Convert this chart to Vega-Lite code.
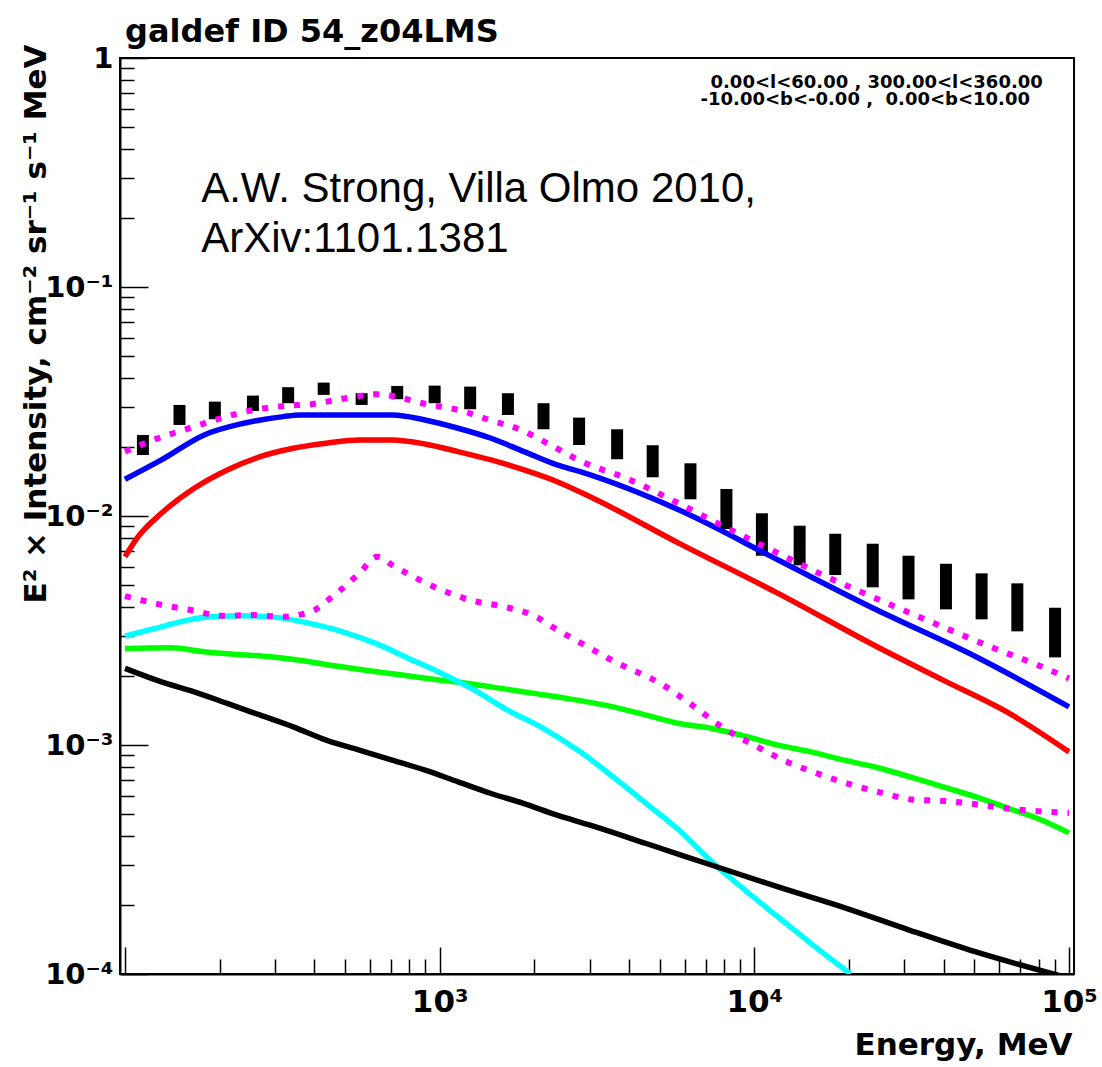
{
  "$schema": "https://vega.github.io/schema/vega-lite/v6.json",
  "width": 954,
  "height": 916,
  "autosize": {"type": "none"},
  "padding": {"left": 120, "top": 58, "right": 28, "bottom": 93},
  "background": "white",
  "title": {
    "text": "galdef ID 54_z04LMS",
    "anchor": "start",
    "frame": "group",
    "dx": 5,
    "offset": -30,
    "baseline": "alphabetic",
    "font": "DejaVu Sans",
    "fontSize": 32,
    "fontWeight": "bold",
    "color": "black"
  },
  "datasets": {
    "measured": [
      {"E": 114, "lo": 0.01847, "hi": 0.02259},
      {"E": 149, "lo": 0.02498, "hi": 0.03055},
      {"E": 193, "lo": 0.02645, "hi": 0.03158},
      {"E": 255, "lo": 0.02876, "hi": 0.03355},
      {"E": 330, "lo": 0.03108, "hi": 0.03651},
      {"E": 428, "lo": 0.03379, "hi": 0.03824},
      {"E": 565, "lo": 0.03055, "hi": 0.03437},
      {"E": 733, "lo": 0.03235, "hi": 0.03698},
      {"E": 964, "lo": 0.03108, "hi": 0.0371},
      {"E": 1250, "lo": 0.02925, "hi": 0.03673},
      {"E": 1648, "lo": 0.02762, "hi": 0.03437},
      {"E": 2138, "lo": 0.02392, "hi": 0.03108},
      {"E": 2774, "lo": 0.02042, "hi": 0.02689},
      {"E": 3664, "lo": 0.01769, "hi": 0.02392},
      {"E": 4753, "lo": 0.01476, "hi": 0.02037},
      {"E": 6266, "lo": 0.01183, "hi": 0.01699},
      {"E": 8152, "lo": 0.008773, "hi": 0.01312},
      {"E": 10570, "lo": 0.006707, "hi": 0.010276},
      {"E": 13930, "lo": 0.006088, "hi": 0.009071},
      {"E": 18080, "lo": 0.005522, "hi": 0.008366},
      {"E": 23780, "lo": 0.004882, "hi": 0.007566},
      {"E": 30900, "lo": 0.004325, "hi": 0.006707},
      {"E": 40640, "lo": 0.003911, "hi": 0.006186},
      {"E": 52760, "lo": 0.003537, "hi": 0.005618},
      {"E": 68520, "lo": 0.003135, "hi": 0.005081},
      {"E": 90300, "lo": 0.002413, "hi": 0.003975}
    ],
    "curves": [
      {"component": "total", "E": 100, "I": 0.01446},
      {"component": "total", "E": 130.5, "I": 0.01757},
      {"component": "total", "E": 178.5, "I": 0.02259},
      {"component": "total", "E": 238.5, "I": 0.02541},
      {"component": "total", "E": 318.5, "I": 0.02716},
      {"component": "total", "E": 359.5, "I": 0.02762},
      {"component": "total", "E": 706.5, "I": 0.02762},
      {"component": "total", "E": 899, "I": 0.02627},
      {"component": "total", "E": 1145, "I": 0.02417},
      {"component": "total", "E": 1457, "I": 0.02185},
      {"component": "total", "E": 1854, "I": 0.0191},
      {"component": "total", "E": 2362, "I": 0.01671},
      {"component": "total", "E": 2796, "I": 0.01561},
      {"component": "total", "E": 5768, "I": 0.01062},
      {"component": "total", "E": 11900, "I": 0.006423},
      {"component": "total", "E": 24550, "I": 0.003884},
      {"component": "total", "E": 50630, "I": 0.002428},
      {"component": "total", "E": 100000, "I": 0.001468},

      {"component": "pi0", "E": 100, "I": 0.006638},
      {"component": "pi0", "E": 110.1, "I": 0.00812},
      {"component": "pi0", "E": 130.5, "I": 0.010276},
      {"component": "pi0", "E": 166, "I": 0.013213},
      {"component": "pi0", "E": 211.3, "I": 0.015888},
      {"component": "pi0", "E": 269.1, "I": 0.018159},
      {"component": "pi0", "E": 342.4, "I": 0.019758},
      {"component": "pi0", "E": 435.9, "I": 0.02078},
      {"component": "pi0", "E": 555, "I": 0.02148},
      {"component": "pi0", "E": 706.5, "I": 0.02148},
      {"component": "pi0", "E": 899, "I": 0.02063},
      {"component": "pi0", "E": 1145, "I": 0.0191},
      {"component": "pi0", "E": 1457, "I": 0.01757},
      {"component": "pi0", "E": 1854, "I": 0.015888},
      {"component": "pi0", "E": 2362, "I": 0.01412},
      {"component": "pi0", "E": 3007, "I": 0.01214},
      {"component": "pi0", "E": 5768, "I": 0.007598},
      {"component": "pi0", "E": 11900, "I": 0.004594},
      {"component": "pi0", "E": 24550, "I": 0.002685},
      {"component": "pi0", "E": 39790, "I": 0.00192},
      {"component": "pi0", "E": 64440, "I": 0.001377},
      {"component": "pi0", "E": 100000, "I": 0.0009333},

      {"component": "IC", "E": 100, "I": 0.002642},
      {"component": "IC", "E": 140.3, "I": 0.002658},
      {"component": "IC", "E": 178.5, "I": 0.002553},
      {"component": "IC", "E": 227.2, "I": 0.002487},
      {"component": "IC", "E": 289.3, "I": 0.002428},
      {"component": "IC", "E": 368.1, "I": 0.002332},
      {"component": "IC", "E": 468.7, "I": 0.002211},
      {"component": "IC", "E": 596.8, "I": 0.002109},
      {"component": "IC", "E": 759.5, "I": 0.00202},
      {"component": "IC", "E": 966.5, "I": 0.001934},
      {"component": "IC", "E": 1231, "I": 0.001857},
      {"component": "IC", "E": 1567, "I": 0.001767},
      {"component": "IC", "E": 1994, "I": 0.00168},
      {"component": "IC", "E": 2539, "I": 0.001597},
      {"component": "IC", "E": 3558, "I": 0.001467},
      {"component": "IC", "E": 4532, "I": 0.00135},
      {"component": "IC", "E": 5768, "I": 0.001242},
      {"component": "IC", "E": 7340, "I": 0.001181},
      {"component": "IC", "E": 9349, "I": 0.001093},
      {"component": "IC", "E": 11900, "I": 0.0009984},
      {"component": "IC", "E": 15150, "I": 0.0009333},
      {"component": "IC", "E": 19290, "I": 0.0008584},
      {"component": "IC", "E": 24550, "I": 0.0007978},
      {"component": "IC", "E": 31240, "I": 0.0007258},
      {"component": "IC", "E": 39790, "I": 0.0006564},
      {"component": "IC", "E": 50630, "I": 0.0005935},
      {"component": "IC", "E": 64440, "I": 0.0005281},
      {"component": "IC", "E": 82080, "I": 0.0004695},
      {"component": "IC", "E": 100000, "I": 0.0004132},

      {"component": "bremss", "E": 100, "I": 0.002989},
      {"component": "bremss", "E": 130.5, "I": 0.003282},
      {"component": "bremss", "E": 158.2, "I": 0.003511},
      {"component": "bremss", "E": 187.3, "I": 0.003631},
      {"component": "bremss", "E": 238.5, "I": 0.003667},
      {"component": "bremss", "E": 303.5, "I": 0.003608},
      {"component": "bremss", "E": 386.5, "I": 0.003397},
      {"component": "bremss", "E": 491.8, "I": 0.003122},
      {"component": "bremss", "E": 625.9, "I": 0.002777},
      {"component": "bremss", "E": 797.3, "I": 0.002389},
      {"component": "bremss", "E": 1015, "I": 0.002054},
      {"component": "bremss", "E": 1291, "I": 0.001736},
      {"component": "bremss", "E": 1644, "I": 0.00142},
      {"component": "bremss", "E": 2093, "I": 0.0012},
      {"component": "bremss", "E": 2796, "I": 0.0009333},
      {"component": "bremss", "E": 3558, "I": 0.0007258},
      {"component": "bremss", "E": 4532, "I": 0.0005552},
      {"component": "bremss", "E": 5768, "I": 0.0004245},
      {"component": "bremss", "E": 7340, "I": 0.0003086},
      {"component": "bremss", "E": 9349, "I": 0.0002321},
      {"component": "bremss", "E": 11900, "I": 0.0001774},
      {"component": "bremss", "E": 15150, "I": 0.0001358},
      {"component": "bremss", "E": 20230, "I": 0.0001},

      {"component": "isotropic", "E": 100, "I": 0.00216},
      {"component": "isotropic", "E": 130.5, "I": 0.001887},
      {"component": "isotropic", "E": 166, "I": 0.001707},
      {"component": "isotropic", "E": 211.3, "I": 0.001519},
      {"component": "isotropic", "E": 269.1, "I": 0.00135},
      {"component": "isotropic", "E": 342.4, "I": 0.0012},
      {"component": "isotropic", "E": 435.9, "I": 0.00105},
      {"component": "isotropic", "E": 555, "I": 0.0009493},
      {"component": "isotropic", "E": 706.5, "I": 0.0008584},
      {"component": "isotropic", "E": 899, "I": 0.0007764},
      {"component": "isotropic", "E": 1145, "I": 0.0006901},
      {"component": "isotropic", "E": 1457, "I": 0.0006141},
      {"component": "isotropic", "E": 1854, "I": 0.0005552},
      {"component": "isotropic", "E": 2362, "I": 0.0004937},
      {"component": "isotropic", "E": 3007, "I": 0.0004464},
      {"component": "isotropic", "E": 4532, "I": 0.0003714},
      {"component": "isotropic", "E": 7340, "I": 0.0002985},
      {"component": "isotropic", "E": 11900, "I": 0.0002399},
      {"component": "isotropic", "E": 19290, "I": 0.000195},
      {"component": "isotropic", "E": 31240, "I": 0.0001552},
      {"component": "isotropic", "E": 50630, "I": 0.0001248},
      {"component": "isotropic", "E": 100000, "I": 0.00009585},

      {"component": "total_with_sources", "E": 100, "I": 0.0191},
      {"component": "total_with_sources", "E": 127.3, "I": 0.02185},
      {"component": "total_with_sources", "E": 160.1, "I": 0.02417},
      {"component": "total_with_sources", "E": 201.4, "I": 0.02672},
      {"component": "total_with_sources", "E": 256.4, "I": 0.02905},
      {"component": "total_with_sources", "E": 322.4, "I": 0.03024},
      {"component": "total_with_sources", "E": 395.8, "I": 0.03086},
      {"component": "total_with_sources", "E": 503.8, "I": 0.03268},
      {"component": "total_with_sources", "E": 633.9, "I": 0.03403},
      {"component": "total_with_sources", "E": 723.4, "I": 0.03321},
      {"component": "total_with_sources", "E": 899, "I": 0.03086},
      {"component": "total_with_sources", "E": 1145, "I": 0.02905},
      {"component": "total_with_sources", "E": 1440, "I": 0.02627},
      {"component": "total_with_sources", "E": 1811, "I": 0.02376},
      {"component": "total_with_sources", "E": 2250, "I": 0.02042},
      {"component": "total_with_sources", "E": 2831, "I": 0.01727},
      {"component": "total_with_sources", "E": 3996, "I": 0.01446},
      {"component": "total_with_sources", "E": 5655, "I": 0.01148},
      {"component": "total_with_sources", "E": 8030, "I": 0.008978},
      {"component": "total_with_sources", "E": 11340, "I": 0.007101},
      {"component": "total_with_sources", "E": 16090, "I": 0.005618},
      {"component": "total_with_sources", "E": 25580, "I": 0.00424},
      {"component": "total_with_sources", "E": 40060, "I": 0.003263},
      {"component": "total_with_sources", "E": 56850, "I": 0.002668},
      {"component": "total_with_sources", "E": 80080, "I": 0.002226},
      {"component": "total_with_sources", "E": 100000, "I": 0.001953},

      {"component": "sources", "E": 100, "I": 0.004471},
      {"component": "sources", "E": 127.3, "I": 0.004125},
      {"component": "sources", "E": 162.1, "I": 0.003884},
      {"component": "sources", "E": 203.8, "I": 0.003667},
      {"component": "sources", "E": 256.4, "I": 0.003693},
      {"component": "sources", "E": 318.5, "I": 0.003631},
      {"component": "sources", "E": 363.7, "I": 0.003719},
      {"component": "sources", "E": 400.6, "I": 0.003884},
      {"component": "sources", "E": 441.2, "I": 0.004295},
      {"component": "sources", "E": 491.8, "I": 0.004833},
      {"component": "sources", "E": 555, "I": 0.005618},
      {"component": "sources", "E": 633.9, "I": 0.006638},
      {"component": "sources", "E": 715.1, "I": 0.006046},
      {"component": "sources", "E": 806.4, "I": 0.005522},
      {"component": "sources", "E": 1002, "I": 0.004784},
      {"component": "sources", "E": 1276, "I": 0.004264},
      {"component": "sources", "E": 1604, "I": 0.004015},
      {"component": "sources", "E": 2044, "I": 0.003608},
      {"component": "sources", "E": 2278, "I": 0.003282},
      {"component": "sources", "E": 2863, "I": 0.00275},
      {"component": "sources", "E": 3602, "I": 0.002309},
      {"component": "sources", "E": 5027, "I": 0.001857},
      {"component": "sources", "E": 6350, "I": 0.001493},
      {"component": "sources", "E": 7932, "I": 0.001193},
      {"component": "sources", "E": 10120, "I": 0.0009886},
      {"component": "sources", "E": 12730, "I": 0.0008438},
      {"component": "sources", "E": 16090, "I": 0.0007458},
      {"component": "sources", "E": 20230, "I": 0.0006724},
      {"component": "sources", "E": 25450, "I": 0.0006178},
      {"component": "sources", "E": 31620, "I": 0.0005781},
      {"component": "sources", "E": 40240, "I": 0.00057},
      {"component": "sources", "E": 50630, "I": 0.0005514},
      {"component": "sources", "E": 63700, "I": 0.0005281},
      {"component": "sources", "E": 80080, "I": 0.000514},
      {"component": "sources", "E": 100000, "I": 0.0005052}
    ]
  },
  "layer": [
    {
      "data": {"name": "measured"},
      "mark": {"type": "bar", "width": 12, "color": "black", "clip": true},
      "encoding": {
        "x": {
          "field": "E",
          "type": "quantitative",
          "scale": {"type": "log", "domain": [100, 100000], "nice": false},
          "axis": {
            "title": "Energy, MeV",
            "values": [100, 200, 300, 400, 500, 600, 700, 800, 900, 1000, 2000, 3000, 4000, 5000, 6000, 7000, 8000, 9000, 10000, 20000, 30000, 40000, 50000, 60000, 70000, 80000, 90000, 100000],
            "labelExpr": "datum.value == 1000 ? '10³' : datum.value == 10000 ? '10⁴' : datum.value == 100000 ? '10⁵' : ''",
            "tickSize": {"condition": {"test": "datum.value == 100 || datum.value == 1000 || datum.value == 10000 || datum.value == 100000", "value": -27}, "value": -15},
            "labelPadding": 40,
            "labelFlush": false,
            "labelOverlap": false,
            "labelBound": false,
            "titleX": 952,
            "titleY": 80,
            "titleAlign": "right",
            "titleBaseline": "alphabetic"
          }
        },
        "y": {
          "field": "lo",
          "type": "quantitative",
          "scale": {"type": "log", "domain": [0.0001, 1], "nice": false},
          "axis": {
            "title": "E² × Intensity, cm⁻² sr⁻¹ s⁻¹ MeV",
            "values": [0.0001, 0.0002, 0.0003, 0.0004, 0.0005, 0.0006, 0.0007, 0.0008, 0.0009, 0.001, 0.002, 0.003, 0.004, 0.005, 0.006, 0.007, 0.008, 0.009, 0.01, 0.02, 0.03, 0.04, 0.05, 0.06, 0.07, 0.08, 0.09, 0.1, 0.2, 0.3, 0.4, 0.5, 0.6, 0.7, 0.8, 0.9, 1],
            "labelExpr": "datum.value == 1 ? '1' : datum.value == 0.1 ? '10⁻¹' : datum.value == 0.01 ? '10⁻²' : datum.value == 0.001 ? '10⁻³' : datum.value == 0.0001 ? '10⁻⁴' : ''",
            "tickSize": {"condition": {"test": "datum.value == 1 || datum.value == 0.1 || datum.value == 0.01 || datum.value == 0.001 || datum.value == 0.0001", "value": -28}, "value": -14},
            "labelPadding": 35,
            "labelFontSize": 29,
            "labelFlush": false,
            "labelOverlap": false,
            "labelBound": false,
            "titleAngle": 270,
            "titleAlign": "right",
            "titleBaseline": "middle",
            "titleX": -84,
            "titleY": -14
          }
        },
        "y2": {"field": "hi"}
      }
    },
    {
      "data": {"name": "curves"},
      "transform": [{"filter": "datum.component != 'sources' && datum.component != 'total_with_sources'"}],
      "mark": {"type": "line", "strokeWidth": 5.5, "interpolate": "monotone", "clip": true},
      "encoding": {
        "x": {"field": "E", "type": "quantitative", "scale": {"type": "log", "domain": [100, 100000], "nice": false}},
        "y": {"field": "I", "type": "quantitative", "scale": {"type": "log", "domain": [0.0001, 1], "nice": false}},
        "color": {
          "field": "component",
          "type": "nominal",
          "scale": {"domain": ["total", "pi0", "IC", "bremss", "isotropic"], "range": ["#0000ff", "#ff0000", "#00ff00", "#00ffff", "#000000"]},
          "legend": null
        }
      }
    },
    {
      "data": {"name": "curves"},
      "transform": [{"filter": "datum.component == 'sources' || datum.component == 'total_with_sources'"}],
      "mark": {"type": "line", "strokeWidth": 6, "strokeDash": [6, 10], "interpolate": "monotone", "color": "#ff00ff", "clip": true},
      "encoding": {
        "x": {"field": "E", "type": "quantitative", "scale": {"type": "log", "domain": [100, 100000], "nice": false}},
        "y": {"field": "I", "type": "quantitative", "scale": {"type": "log", "domain": [0.0001, 1], "nice": false}},
        "detail": {"field": "component", "type": "nominal"}
      }
    },
    {
      "data": {"values": [{}]},
      "mark": {"type": "text", "text": ["A.W. Strong, Villa Olmo 2010,", "ArXiv:1101.1381"], "font": "Liberation Sans", "fontSize": 42, "lineHeight": 50, "align": "left", "baseline": "alphabetic", "color": "black"},
      "encoding": {
        "x": {"datum": 174.6, "type": "quantitative", "scale": {"type": "log", "domain": [100, 100000], "nice": false}},
        "y": {"datum": 0.2351, "type": "quantitative", "scale": {"type": "log", "domain": [0.0001, 1], "nice": false}}
      }
    },
    {
      "data": {"values": [{}]},
      "mark": {"type": "text", "text": "0.00<l<60.00 , 300.00<l<360.00", "font": "DejaVu Sans", "fontWeight": "bold", "fontSize": 18, "align": "left", "baseline": "alphabetic", "color": "black"},
      "encoding": {
        "x": {"datum": 7256, "type": "quantitative", "scale": {"type": "log", "domain": [100, 100000], "nice": false}},
        "y": {"datum": 0.7396, "type": "quantitative", "scale": {"type": "log", "domain": [0.0001, 1], "nice": false}}
      }
    },
    {
      "data": {"values": [{}]},
      "mark": {"type": "text", "text": "-10.00<b<-0.00 , \u00a00.00<b<10.00", "font": "DejaVu Sans", "fontWeight": "bold", "fontSize": 18, "align": "left", "baseline": "alphabetic", "color": "black"},
      "encoding": {
        "x": {"datum": 6748, "type": "quantitative", "scale": {"type": "log", "domain": [100, 100000], "nice": false}},
        "y": {"datum": 0.6233, "type": "quantitative", "scale": {"type": "log", "domain": [0.0001, 1], "nice": false}}
      }
    }
  ],
  "config": {
    "view": {"stroke": "black", "strokeWidth": 2},
    "axis": {
      "grid": false,
      "domainColor": "black",
      "domainWidth": 2,
      "tickColor": "black",
      "tickWidth": 1.5,
      "labelFont": "DejaVu Sans",
      "labelFontWeight": "bold",
      "labelFontSize": 31,
      "labelColor": "black",
      "titleFont": "DejaVu Sans",
      "titleFontWeight": "bold",
      "titleFontSize": 31,
      "titleColor": "black"
    }
  }
}
